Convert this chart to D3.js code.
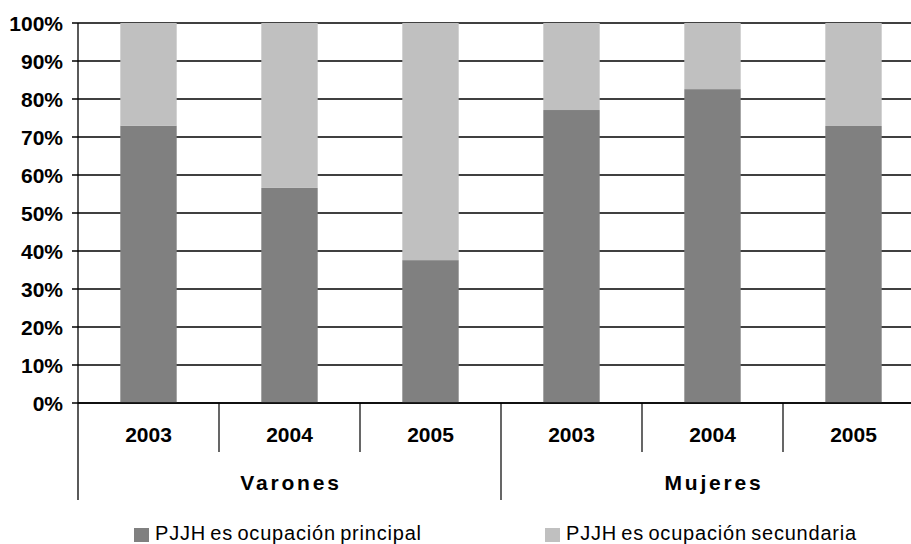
<!DOCTYPE html>
<html><head><meta charset="utf-8">
<script src="https://cdn.jsdelivr.net/npm/d3@7"></script>
<style>body{margin:0;background:#fff}svg{display:block;font-family:"Liberation Sans",Arial,sans-serif}</style>
</head><body><svg id="c" width="911" height="544"></svg>
<script>
const groups = ["Varones", "Mujeres"];
const years = ["2003", "2004", "2005"];
const principal = [73, 56.6, 37.6, 77.1, 82.6, 72.9];
const seriesNames = ["PJJH es ocupación principal", "PJJH es ocupación secundaria"];
const yTicks = [0,10,20,30,40,50,60,70,80,90,100];
const colors = ["#808080", "#c0c0c0"];

const cats = [];
groups.forEach(g => years.forEach(y => cats.push(g + "|" + y)));
const data = cats.map((c, i) => ({cat: c, year: c.split("|")[1], p: principal[i], s: 100 - principal[i]}));

const svg = d3.select("#c");
const mLeft = 78, mTop = 23, mBottom = 403, catW = 141;
const x = d3.scaleBand().domain(cats).range([mLeft, mLeft + catW * cats.length]).paddingInner(0.6).paddingOuter(0.3);
const y = d3.scaleLinear().domain([0, 100]).range([mBottom, mTop]);

// gridlines
svg.append("g").selectAll("line").data(yTicks).join("line")
  .attr("x1", mLeft - 6).attr("x2", 911).attr("y1", d => y(d)).attr("y2", d => y(d))
  .attr("stroke", "#000").attr("stroke-width", 1.3);

const stack = d3.stack().keys(["p", "s"])(data);
svg.append("g").selectAll("g").data(stack).join("g").attr("fill", (d, i) => colors[i])
  .selectAll("rect").data(d => d).join("rect")
  .attr("x", d => x(d.data.cat)).attr("width", x.bandwidth())
  .attr("y", d => y(d[1])).attr("height", d => y(d[0]) - y(d[1]));

// axis lines
svg.append("line").attr("x1", mLeft).attr("x2", mLeft).attr("y1", mTop).attr("y2", 500).attr("stroke", "#000").attr("stroke-width", 1.3);
svg.append("line").attr("x1", mLeft).attr("x2", 911).attr("y1", mBottom).attr("y2", mBottom).attr("stroke", "#000").attr("stroke-width", 1.3);

// y labels
svg.append("g").selectAll("text").data(yTicks).join("text")
  .attr("x", 63).attr("y", d => y(d) + 8).attr("text-anchor", "end")
  .attr("font-size", 21).attr("font-weight", "bold").text(d => d + "%");

// category separators
cats.forEach((c, i) => {
  if (i === 0) return;
  const xx = mLeft + catW * i;
  const isGroup = i % years.length === 0;
  svg.append("line").attr("x1", xx).attr("x2", xx).attr("y1", mBottom).attr("y2", isGroup ? 500 : 452)
    .attr("stroke", "#000").attr("stroke-width", 1.2);
});

svg.append("g").selectAll("text").data(data).join("text")
  .attr("x", d => x(d.cat) + x.bandwidth() / 2).attr("y", 442).attr("text-anchor", "middle")
  .attr("font-size", 21).attr("font-weight", "bold").text(d => d.year);

svg.append("g").selectAll("text").data(groups).join("text")
  .attr("x", (d, i) => mLeft + catW * years.length * (i + 0.5) + 1.5).attr("y", 490).attr("text-anchor", "middle")
  .attr("font-size", 21).attr("font-weight", "bold").attr("letter-spacing", 2.8).text(d => d);

// legend
const legX = [134, 545];
const leg = svg.append("g").selectAll("g").data(seriesNames).join("g")
  .attr("transform", (d, i) => `translate(${legX[i]},528)`);
leg.append("rect").attr("width", 15).attr("height", 14).attr("fill", (d, i) => colors[i]);
leg.append("text").attr("x", 21).attr("y", 12).attr("font-size", 20).attr("letter-spacing", 0.8).attr("word-spacing", -2).text(d => d);
</script></body></html>
